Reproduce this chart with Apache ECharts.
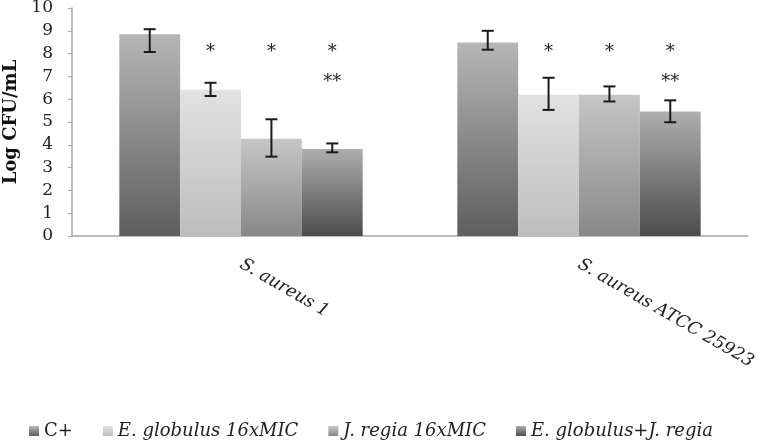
<!DOCTYPE html>
<html>
<head>
<meta charset="utf-8">
<script src="https://cdn.jsdelivr.net/npm/echarts@6/dist/echarts.min.js"></script>
<style>
  html, body { margin: 0; padding: 0; background: #fff; }
  #chart { width: 761px; height: 444px; }
</style>
</head>
<body>
<div id="chart"></div>
<script>
// strains on the x axis
var strains = ['S. aureus 1', 'S. aureus ATCC 25923'];
var treatments = ['C+', 'E. globulus 16xMIC', 'J. regia 16xMIC', 'E. globulus+J. regia'];

// mean log CFU/mL per treatment
var cPlus = [8.85, 8.49];
var eGlobulus = [6.41, 6.20];
var jRegia = [4.27, 6.20];
var combo = [3.82, 5.46];

// error bar ends (low, high) per treatment
var cPlusErr = [[8.07, 9.07], [8.17, 9.00]];
var eGlobulusErr = [[6.14, 6.72], [5.53, 6.94]];
var jRegiaErr = [[3.48, 5.12], [5.90, 6.56]];
var comboErr = [[3.67, 4.06], [4.99, 5.95]];

// significance marks above each bar
var sigOne = [['', ''], ['*', '*'], ['*', '*'], ['*', '*']];
var sigTwo = [['', ''], ['', ''], ['', ''], ['**', '**']];
var sigOneLevel = 8.05;
var sigTwoLevel = 6.72;

var yTicks = [0, 10, 1];

var barColors = [
  ['#b6b6b6', '#5e5e5e'],
  ['#e2e2e2', '#bdbdbd'],
  ['#c6c6c6', '#888888'],
  ['#aeaeae', '#4c4c4c']
];
// legend text box widths, so the items sit where the original ones do
var legendWidths = [19, 182, 146, 180];

var means = [cPlus, eGlobulus, jRegia, combo];
var errs = [cPlusErr, eGlobulusErr, jRegiaErr, comboErr];
var catGap = 0.28;

var chart = echarts.init(document.getElementById('chart'));

function grad(c) {
  return new echarts.graphic.LinearGradient(0, 0, 0, 1, [
    { offset: 0, color: c[0] },
    { offset: 1, color: c[1] }
  ]);
}

function errRender(idx) {
  return function (params, api) {
    var xi = api.value(0);
    var lo = api.coord([xi, api.value(1)]);
    var hi = api.coord([xi, api.value(2)]);
    var band = api.size([1, 0])[0];
    var bw = band * (1 - catGap) / treatments.length;
    var x = lo[0] + (idx - (treatments.length - 1) / 2) * bw;
    var cap = 6;
    var st = { stroke: '#1a1a1a', lineWidth: 2 };
    var kids = [
      { type: 'line', shape: { x1: x, y1: lo[1], x2: x, y2: hi[1] }, style: st },
      { type: 'line', shape: { x1: x - cap, y1: lo[1], x2: x + cap, y2: lo[1] }, style: st },
      { type: 'line', shape: { x1: x - cap, y1: hi[1], x2: x + cap, y2: hi[1] }, style: st }
    ];
    var s1 = sigOne[idx][xi], s2 = sigTwo[idx][xi];
    var fnt = '18px "DejaVu Serif"';
    if (s1) {
      var p1 = api.coord([xi, sigOneLevel]);
      kids.push({ type: 'text', style: { text: s1, x: x, y: p1[1], align: 'center', verticalAlign: 'middle', font: fnt, fill: '#222' } });
    }
    if (s2) {
      var p2 = api.coord([xi, sigTwoLevel]);
      kids.push({ type: 'text', style: { text: s2, x: x, y: p2[1], align: 'center', verticalAlign: 'middle', font: fnt, fill: '#222' } });
    }
    return { type: 'group', children: kids };
  };
}

var series = [];
treatments.forEach(function (name, i) {
  series.push({
    name: name,
    type: 'bar',
    data: means[i],
    barGap: '0%',
    barCategoryGap: (catGap * 100) + '%',
    itemStyle: { color: grad(barColors[i]) },
    emphasis: { disabled: true }
  });
});
treatments.forEach(function (name, i) {
  series.push({
    type: 'custom',
    name: name + ' err',
    renderItem: errRender(i),
    data: errs[i].map(function (e, k) { return [k, e[0], e[1]]; }),
    encode: { x: 0, y: [1, 2] },
    z: 10,
    silent: true
  });
});

chart.setOption({
  animation: false,
  grid: { left: 72, right: 13, top: 8, bottom: 208, containLabel: false, outerBoundsMode: 'none' },
  legend: {
    data: treatments.map(function (n, i) {
      return {
        name: n,
        textStyle: { width: legendWidths[i], fontStyle: i === 0 ? 'normal' : 'italic' }
      };
    }),
    left: 29,
    top: 422,
    padding: 0,
    itemWidth: 10,
    itemHeight: 10,
    itemGap: 30,
    icon: 'rect',
    textStyle: { fontFamily: 'DejaVu Serif', fontStyle: 'italic', fontSize: 18, color: '#222' }
  },
  xAxis: {
    type: 'category',
    data: strains,
    axisLine: { lineStyle: { color: '#a6a6a6', width: 1.5 } },
    axisTick: { show: false },
    axisLabel: {
      rotate: -30,
      margin: 27,
      interval: 0,
      fontFamily: 'DejaVu Serif',
      fontStyle: 'italic',
      fontSize: 17.5,
      color: '#222'
    }
  },
  yAxis: {
    type: 'value',
    min: yTicks[0],
    max: yTicks[1],
    interval: yTicks[2],
    name: 'Log CFU/mL',
    nameLocation: 'middle',
    nameRotate: 90,
    nameGap: 50,
    nameTextStyle: { fontFamily: 'DejaVu Serif', fontWeight: 'bold', fontSize: 18, color: '#111' },
    axisLine: { show: true, lineStyle: { color: '#a6a6a6', width: 1.5 } },
    axisTick: { show: true, length: 4, lineStyle: { color: '#a6a6a6' } },
    splitLine: { show: false },
    axisLabel: { margin: 19, fontFamily: 'DejaVu Serif', fontSize: 17, color: '#222' }
  },
  series: series
});
</script>
</body>
</html>
